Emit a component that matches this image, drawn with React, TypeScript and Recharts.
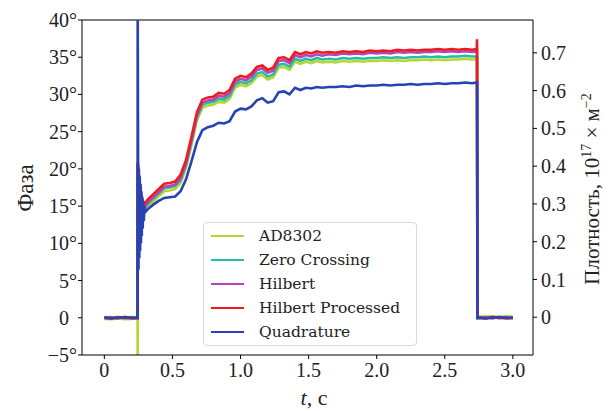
import React from 'react';
import { LineChart, Line, XAxis, YAxis, ReferenceLine, Label } from 'recharts';

// time, s
const times = [
  0, 0.05, 0.1, 0.15, 0.2, 0.244, 0.245,
  0.248, 0.251, 0.254, 0.257, 0.26, 0.263, 0.266, 0.269, 0.272, 0.275, 0.278, 0.282, 0.286, 0.29, 0.295, 0.3,
  0.32, 0.36, 0.4, 0.44, 0.48, 0.52, 0.56, 0.6, 0.64, 0.68, 0.72, 0.76, 0.8, 0.84, 0.88, 0.92, 0.96, 1.0,
  1.04, 1.08, 1.12, 1.16, 1.2, 1.24, 1.28, 1.32, 1.36, 1.4, 1.44, 1.48, 1.52, 1.56, 1.6,
  1.65, 1.7, 1.75, 1.8, 1.85, 1.9, 1.95, 2.0, 2.05, 2.1, 2.15, 2.2, 2.25, 2.3, 2.35, 2.4, 2.45, 2.5, 2.55, 2.6, 2.65, 2.7,
  2.735, 2.737, 2.74, 2.8, 2.85, 2.9, 2.95, 3.0,
];

// phase, degrees
const ad8302 = [
  -0.15, -0.2, -0.1, -0.2, -0.15, -0.1, -6,
  19.4, 18.7, 18.1, 17.6, 17.1, 16.6, 16.2, 15.8, 15.5, 15.2, 15.0, 14.8, 14.6, 14.5, 14.4, 14.4,
  14.9, 15.6, 16.3, 17.0, 17.1, 17.3, 18.1, 20.1, 23.2, 26.5, 28.2, 28.5, 28.6, 29.0, 28.9, 29.4, 30.9, 31.3,
  31.1, 31.5, 32.4, 32.6, 32.0, 32.3, 33.6, 33.7, 33.3, 34.4, 34.1, 34.4, 34.2, 34.5, 34.3,
  34.4, 34.3, 34.5, 34.4, 34.5, 34.4, 34.5, 34.5, 34.6, 34.5, 34.6, 34.5, 34.6, 34.6, 34.7, 34.6, 34.7, 34.6, 34.7, 34.7, 34.8, 34.7,
  34.7, 34.8, 0.2, 0.15, 0.2, 0.1, 0.2, 0.15,
];

const zeroCrossing = [
  -0.1, 0, 0.1, -0.1, 0.1, 0, 20.2,
  19.8, 19.1, 18.5, 18.0, 17.5, 17.0, 16.6, 16.2, 15.9, 15.6, 15.4, 15.2, 15.0, 14.9, 14.8, 14.8,
  15.3, 16.0, 16.7, 17.4, 17.5, 17.7, 18.5, 20.5, 23.6, 26.9, 28.6, 28.9, 29.0, 29.4, 29.3, 29.8, 31.3, 31.7,
  31.5, 31.9, 32.8, 33.0, 32.4, 32.7, 34.0, 34.1, 33.7, 34.8, 34.5, 34.8, 34.6, 34.9, 34.7,
  34.8, 34.7, 34.9, 34.8, 34.9, 34.8, 34.9, 34.9, 35.0, 34.9, 35.0, 34.9, 35.0, 35.0, 35.1, 35.0, 35.1, 35.0, 35.1, 35.1, 35.2, 35.1,
  35.1, 35.2, -0.1, 0, 0.1, -0.1, 0.1, 0,
];

const hilbert = [
  0, 0.1, -0.1, 0.1, 0, -0.1, 20.6,
  20.1, 19.4, 18.8, 18.2, 17.7, 17.2, 16.8, 16.4, 16.1, 15.8, 15.6, 15.4, 15.2, 15.1, 15.0, 15.0,
  15.5, 16.2, 16.9, 17.6, 17.7, 17.9, 18.8, 20.8, 23.9, 27.2, 28.9, 29.2, 29.3, 29.8, 29.7, 30.2, 31.7, 32.1,
  31.9, 32.4, 33.3, 33.5, 32.9, 33.2, 34.5, 34.6, 34.2, 35.3, 35.0, 35.3, 35.1, 35.4, 35.2,
  35.4, 35.3, 35.5, 35.4, 35.5, 35.4, 35.6, 35.5, 35.6, 35.5, 35.7, 35.6, 35.7, 35.6, 35.7, 35.7, 35.8, 35.7, 35.8, 35.7, 35.8, 35.7,
  35.8, 36.2, 0, 0.1, -0.1, 0.1, 0, -0.1,
];

const hilbertProcessed = [
  0.1, -0.1, 0.1, 0, -0.1, 0, 21,
  20.5, 19.8, 19.2, 18.6, 18.1, 17.6, 17.2, 16.8, 16.5, 16.2, 16.0, 15.8, 15.6, 15.5, 15.4, 15.4,
  15.9, 16.6, 17.3, 18.0, 18.1, 18.3, 19.2, 21.2, 24.3, 27.6, 29.3, 29.6, 29.7, 30.2, 30.1, 30.6, 32.1, 32.5,
  32.3, 32.8, 33.7, 33.9, 33.3, 33.6, 34.9, 35.0, 34.6, 35.7, 35.4, 35.7, 35.5, 35.8, 35.6,
  35.7, 35.6, 35.8, 35.7, 35.8, 35.7, 35.9, 35.8, 35.9, 35.8, 36.0, 35.9, 36.0, 35.9, 36.0, 36.0, 36.1, 36.0, 36.1, 36.0, 36.1, 36.0,
  36.1, 37.4, 0.1, -0.1, 0.1, 0, -0.1, 0,
];

const quadrature = [
  0, -0.1, 0, 0.1, 0, 0, 42,
  21, 6.5, 20, 8, 19, 9, 18, 10, 17, 11, 16.3, 12, 15.6, 13, 15, 14.2,
  14.6, 15.2, 15.7, 16.1, 16.2, 16.3, 17.0, 18.6, 21.0, 23.6, 25.2, 25.6, 25.8, 26.2, 26.1, 26.4, 27.7, 28.1,
  28.0, 28.4, 29.2, 29.5, 28.9, 29.1, 30.3, 30.4, 30.0, 30.9, 30.6, 30.9, 30.8, 31.0, 30.9,
  31.0, 31.0, 31.1, 31.0, 31.2, 31.1, 31.2, 31.2, 31.3, 31.2, 31.3, 31.3, 31.4, 31.3, 31.4, 31.4, 31.5, 31.4, 31.5, 31.5, 31.6, 31.5,
  31.6, 31.6, 0, -0.1, 0, 0.1, 0, 0,
];

const xTicks = [0, 0.5, 1.0, 1.5, 2.0, 2.5, 3.0];
const phaseTicks = [-5, 0, 5, 10, 15, 20, 25, 30, 35, 40];
const densityTicks = [0, 0.1, 0.2, 0.3, 0.4, 0.5, 0.6, 0.7];

const series = [
  { key: 'ad8302', name: 'AD8302', color: '#b9d434' },
  { key: 'zeroCrossing', name: 'Zero Crossing', color: '#22bfa3' },
  { key: 'hilbert', name: 'Hilbert', color: '#b045bd' },
  { key: 'hilbertProcessed', name: 'Hilbert Processed', color: '#f0191e' },
  { key: 'quadrature', name: 'Quadrature', color: '#2743b3' },
];

const rows = times.map((t, i) => ({
  t,
  ad8302: ad8302[i],
  zeroCrossing: zeroCrossing[i],
  hilbert: hilbert[i],
  hilbertProcessed: hilbertProcessed[i],
  quadrature: quadrature[i],
}));

const serif = '"Liberation Serif", "Times New Roman", serif';
const ink = '#222';

const PhaseTick = (props: any) => {
  const { x, y, payload } = props;
  const v = payload.value;
  const txt = v < 0 ? '\u2212' + Math.abs(v) : String(v);
  return (
    <text x={x} y={y} dy="0.35em" textAnchor="end" fontFamily={serif} fontSize={20} fill={ink}>
      {txt}
      <tspan fillOpacity={v === 0 ? 0 : 1}>°</tspan>
    </text>
  );
};

const tickStyle = { fontFamily: serif, fontSize: 20, fill: ink };

export default function App() {
  return (
    <div style={{ position: 'absolute', left: 0, top: 0, width: 612, height: 411, background: '#fff' }}>
      <LineChart width={612} height={411} data={rows} margin={{ top: 20, right: 0, bottom: 0, left: 0 }}>
        <XAxis
          dataKey="t"
          type="number"
          domain={[-0.164, 3.148]}
          allowDataOverflow
          ticks={xTicks}
          tickFormatter={(v: number) => (v === 0 ? '0' : v.toFixed(1))}
          height={56}
          tick={tickStyle}
          tickSize={4}
          tickMargin={4}
          axisLine={{ stroke: '#000' }}
          tickLine={{ stroke: '#000' }}
        >
          <Label
            content={() => (
              <text x={314} y={405} textAnchor="middle" fontFamily={serif} fontSize={22} fill={ink}>
                <tspan fontStyle="italic">t</tspan>, с
              </text>
            )}
          />
        </XAxis>
        <YAxis
          yAxisId="left"
          type="number"
          domain={[-5, 40]}
          allowDataOverflow
          ticks={phaseTicks}
          width={82}
          tick={<PhaseTick />}
          tickSize={4}
          tickMargin={1}
          axisLine={{ stroke: '#000' }}
          tickLine={{ stroke: '#000' }}
        >
          <Label
            content={() => (
              <text transform="translate(25,188) rotate(-90)" dy="0.35em" textAnchor="middle" fontFamily={serif} fontSize={23} fill={ink}>
                Фаза
              </text>
            )}
          />
        </YAxis>
        <YAxis
          yAxisId="right"
          orientation="right"
          type="number"
          domain={[-0.1, 0.787]}
          allowDataOverflow
          ticks={densityTicks}
          tickFormatter={(v: number) => (v === 0 ? '0' : v.toFixed(1))}
          width={79}
          tick={tickStyle}
          tickSize={4}
          tickMargin={4}
          axisLine={{ stroke: '#000' }}
          tickLine={{ stroke: '#000' }}
        >
          <Label
            content={() => (
              <text transform="translate(592,189) rotate(-90)" dy="0.35em" textAnchor="middle" fontFamily={serif} fontSize={21} fill={ink}>
                Плотность, 10
                <tspan dy={-8} fontSize={14}>17</tspan>
                <tspan dy={8}> × м</tspan>
                <tspan dy={-8} fontSize={14}>−2</tspan>
              </text>
            )}
          />
        </YAxis>
        <ReferenceLine yAxisId="left" y={40} stroke="#000" ifOverflow="extendDomain" />
        {series.map((s) => (
          <Line
            key={s.key}
            yAxisId="left"
            type="linear"
            dataKey={s.key}
            name={s.name}
            stroke={s.color}
            strokeWidth={2.6}
            dot={false}
            activeDot={false}
            isAnimationActive={false}
          />
        ))}
      </LineChart>
      <div
        style={{
          position: 'absolute',
          left: 203,
          top: 222,
          width: 214,
          height: 124,
          boxSizing: 'border-box',
          border: '1px solid #d8d8d8',
          borderRadius: 4,
          background: 'rgba(255,255,255,0.85)',
        }}
      >
        {series.map((s, i) => (
          <div key={s.key} style={{ position: 'absolute', left: 0, top: 13 + i * 24 - 10, height: 20, width: 212 }}>
            <div style={{ position: 'absolute', left: 7, top: 9, width: 33, height: 2, background: s.color }} />
            <div
              style={{
                position: 'absolute',
                left: 55,
                top: 0,
                lineHeight: '20px',
                fontFamily: '"DejaVu Serif", serif',
                fontSize: 15.5,
                color: ink,
                whiteSpace: 'nowrap',
              }}
            >
              {s.name}
            </div>
          </div>
        ))}
      </div>
    </div>
  );
}
